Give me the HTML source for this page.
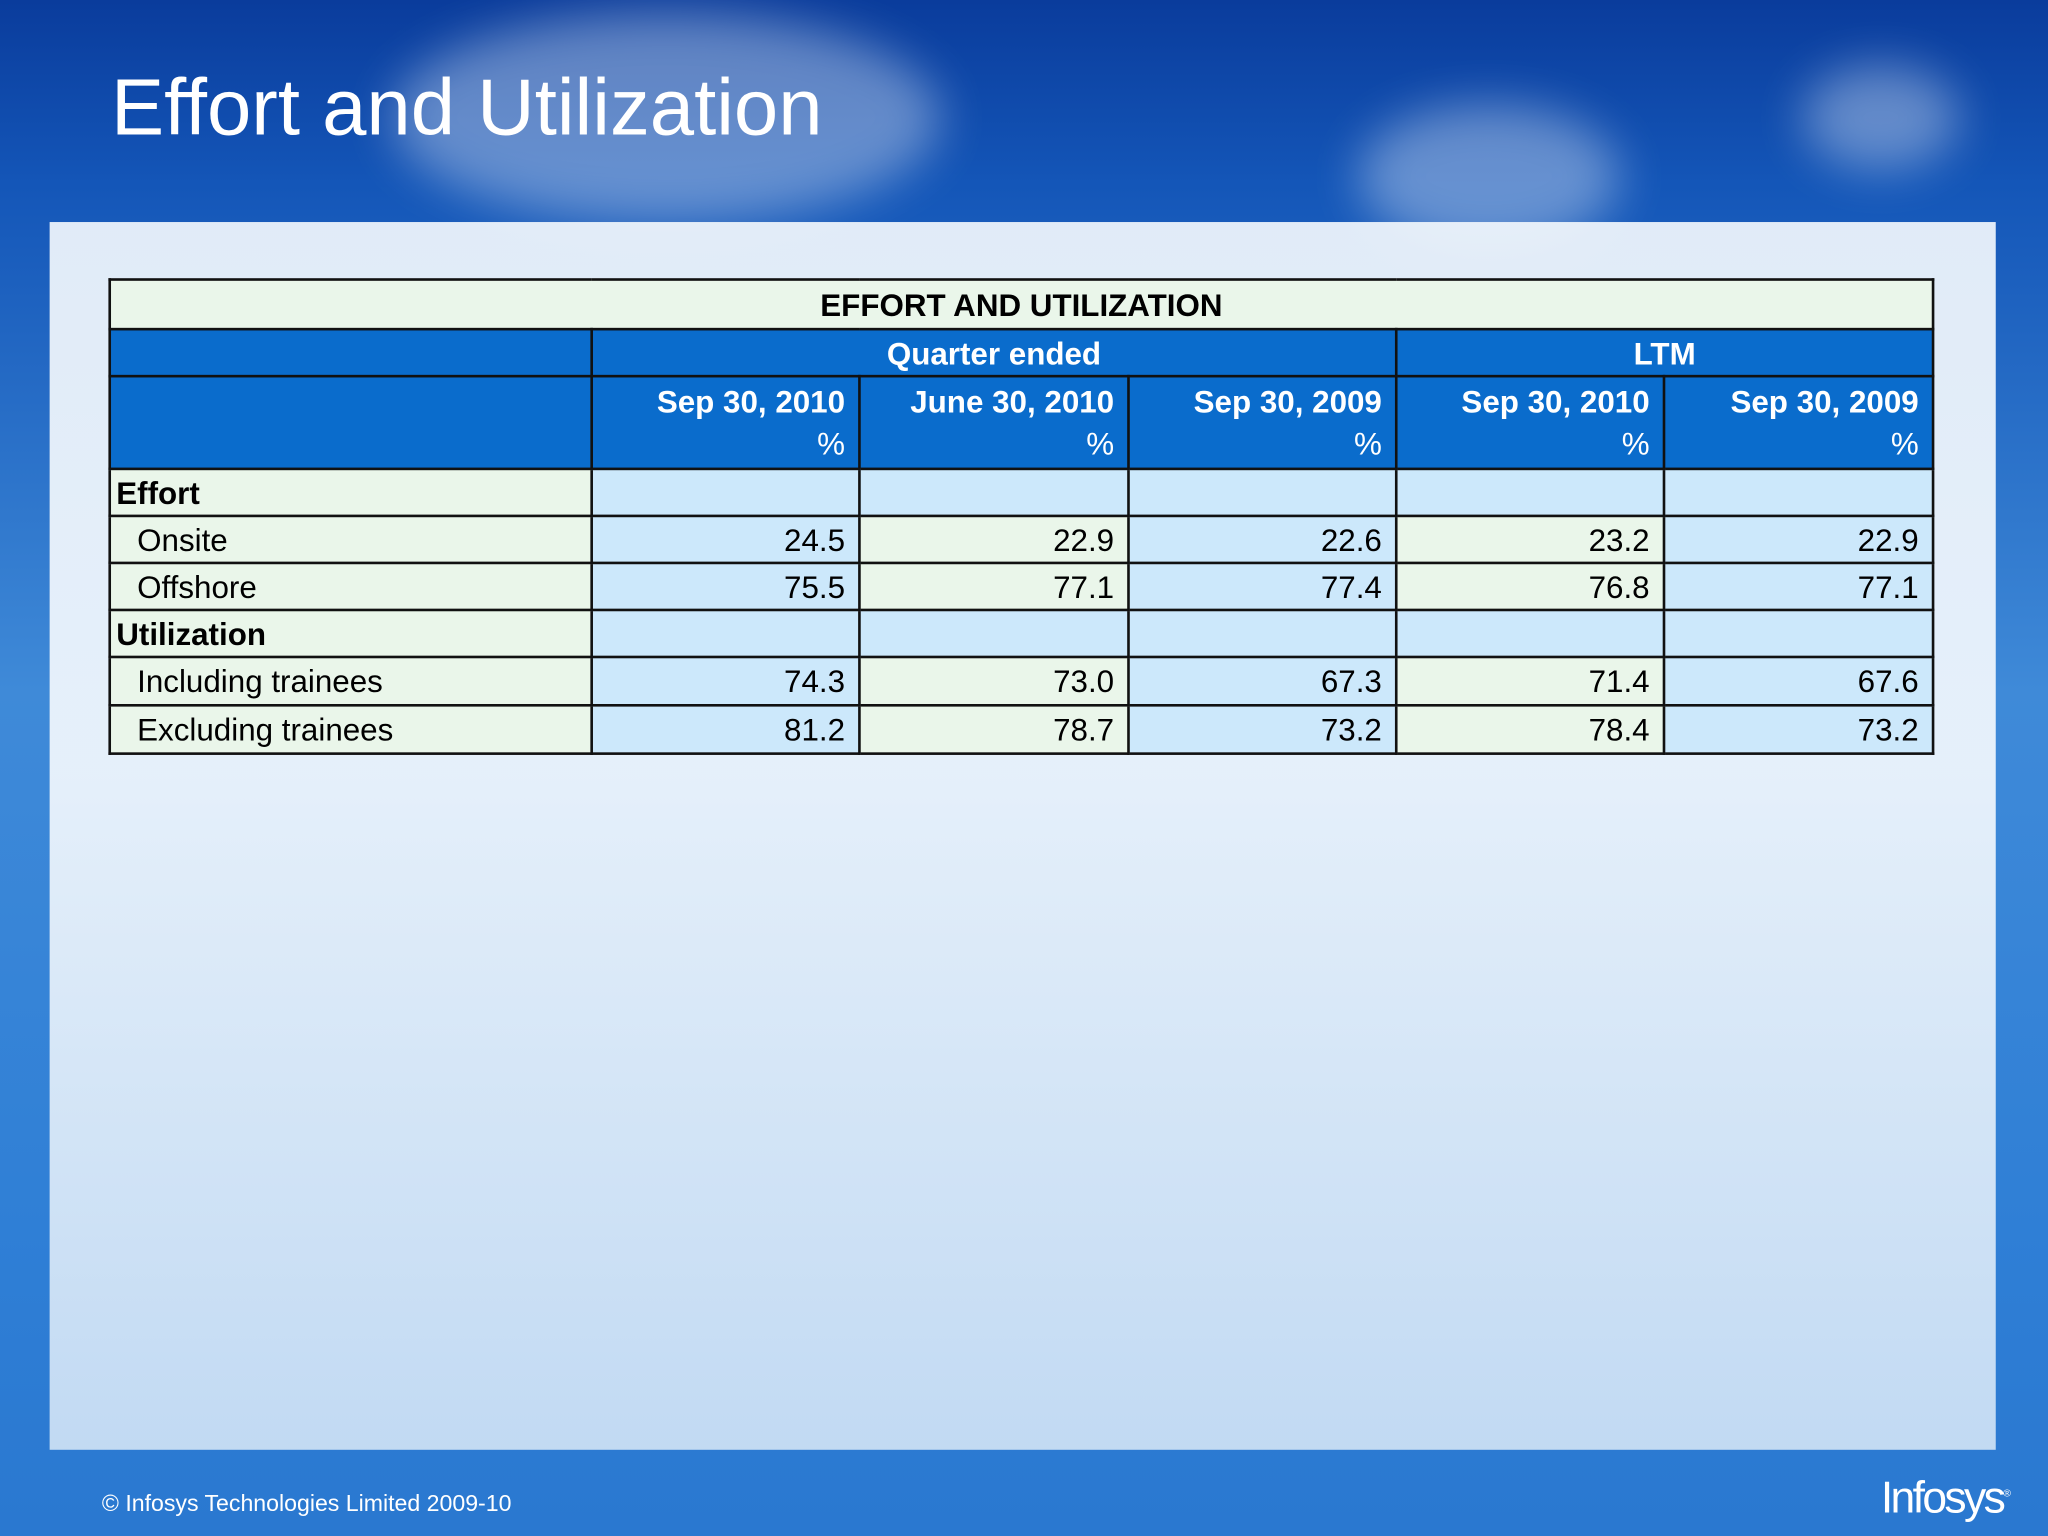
<!DOCTYPE html>
<html><head><meta charset="utf-8"><style>
html,body{margin:0;padding:0;width:2048px;height:1536px;overflow:hidden}
#stage{position:absolute;left:0;top:0;width:1568px;height:1176px;transform:scale(1.30612);transform-origin:0 0;
background:linear-gradient(180deg,#0a3c9c 0%,#1456b8 12%,#3f8ad8 45%,#2f7fd6 80%,#2a78d0 100%);font-family:"Liberation Sans",sans-serif;overflow:hidden}
.cloud{position:absolute;border-radius:50%;background:rgba(255,255,255,0.35);filter:blur(18px)}
#title{position:absolute;left:85px;top:47px;font-size:61px;color:#fff}
#panel{position:absolute;left:38px;top:170px;width:1490px;height:940px;background:linear-gradient(180deg,rgba(240,246,252,0.93) 0%,rgba(238,245,252,0.95) 45%,rgba(205,225,245,0.93) 100%)}
table{position:absolute;left:83px;top:213px;border-collapse:collapse;font-size:24px;color:#000}
td{border:2px solid #111;padding:0 10px;height:34px;box-sizing:border-box;padding-top:3px}
.g{background:#eaf6ea}.b{background:#cce8fb}
.h{background:#0a6ccc;color:#fff;font-weight:bold;text-align:center}
.num{text-align:right}
.pc{font-weight:normal}
#footer{position:absolute;left:78px;top:1141px;font-size:17.7px;color:#fff}
#logo{position:absolute;left:1440px;top:1128px;font-size:34px;color:#fff;letter-spacing:-2px;font-family:"Liberation Sans Narrow","Liberation Sans",sans-serif}
</style></head><body>
<div id="stage">
<div class="cloud" style="left:300px;top:10px;width:420px;height:160px"></div>
<div class="cloud" style="left:1040px;top:80px;width:200px;height:110px"></div>
<div class="cloud" style="left:1380px;top:50px;width:120px;height:80px"></div>
<div id="title">Effort and Utilization</div>
<div id="panel"></div>
<table>
<colgroup><col style="width:369px"><col style="width:205px"><col style="width:206px"><col style="width:205px"><col style="width:205px"><col style="width:206px"></colgroup>
<tr style="height:38px"><td colspan="6" class="g" style="text-align:center;font-weight:bold">EFFORT AND UTILIZATION</td></tr>
<tr style="height:36px"><td class="h"></td><td colspan="3" class="h">Quarter ended</td><td colspan="2" class="h">LTM</td></tr>
<tr style="height:71px"><td class="h"></td>
<td class="h" style="text-align:right;line-height:32px">Sep 30, 2010<br><span class="pc">%</span></td>
<td class="h" style="text-align:right;line-height:32px">June 30, 2010<br><span class="pc">%</span></td>
<td class="h" style="text-align:right;line-height:32px">Sep 30, 2009<br><span class="pc">%</span></td>
<td class="h" style="text-align:right;line-height:32px">Sep 30, 2010<br><span class="pc">%</span></td>
<td class="h" style="text-align:right;line-height:32px">Sep 30, 2009<br><span class="pc">%</span></td></tr>
<tr style="height:36px"><td class="g" style="font-weight:bold;padding-left:4px">Effort</td><td class="b"></td><td class="b"></td><td class="b"></td><td class="b"></td><td class="b"></td></tr>
<tr style="height:36px"><td class="g" style="padding-left:20px">Onsite</td><td class="b num">24.5</td><td class="g num">22.9</td><td class="b num">22.6</td><td class="g num">23.2</td><td class="b num">22.9</td></tr>
<tr style="height:36px"><td class="g" style="padding-left:20px">Offshore</td><td class="b num">75.5</td><td class="g num">77.1</td><td class="b num">77.4</td><td class="g num">76.8</td><td class="b num">77.1</td></tr>
<tr style="height:36px"><td class="g" style="font-weight:bold;padding-left:4px">Utilization</td><td class="b"></td><td class="b"></td><td class="b"></td><td class="b"></td><td class="b"></td></tr>
<tr style="height:37px"><td class="g" style="padding-left:20px">Including trainees</td><td class="b num">74.3</td><td class="g num">73.0</td><td class="b num">67.3</td><td class="g num">71.4</td><td class="b num">67.6</td></tr>
<tr style="height:37px"><td class="g" style="padding-left:20px">Excluding trainees</td><td class="b num">81.2</td><td class="g num">78.7</td><td class="b num">73.2</td><td class="g num">78.4</td><td class="b num">73.2</td></tr>
</table>
<div id="footer">© Infosys Technologies Limited 2009-10</div>
<div id="logo">Infosys<sup style="font-size:8px">®</sup></div>
</div>
</body></html>
